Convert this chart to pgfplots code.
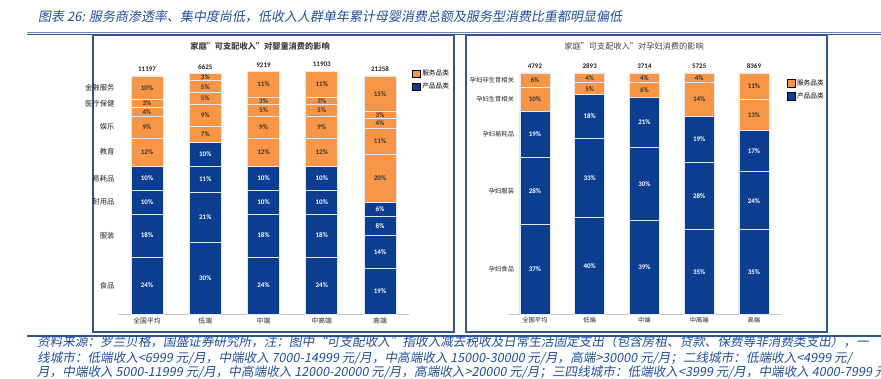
\documentclass[border=0pt]{standalone}
\usepackage{pgfplots}
\pgfplotsset{compat=1.18}
\usepackage{fontspec}
\setmainfont{Carlito}
\newfontfamily\cjk{Noto Sans CJK SC}
\newfontfamily\cjkit{Noto Sans CJK SC}[FakeSlant=0.18]
\definecolor{sorange}{HTML}{F79646}
\definecolor{pblue}{HTML}{0B3D91}
\definecolor{frameblue}{HTML}{2F5597}
\definecolor{textblue}{HTML}{1F4E9F}
\definecolor{segline}{HTML}{E4E9F2}
\pgfplotsset{
  pseg/.style={fill=pblue, draw=segline, line width=0.7pt},
  oseg/.style={fill=sorange, draw=segline, line width=0.7pt},
  lab/.style={draw=none, mark=none, point meta=explicit symbolic,
    nodes near coords={\pgfplotspointmeta\%},
    every node near coord/.style={anchor=center, inner sep=0pt, font=\fontsize{7}{7}\selectfont\bfseries, text=#1}},
  tot/.style={draw=none, mark=none, point meta=explicit symbolic,
    nodes near coords={\pgfplotspointmeta},
    every node near coord/.style={anchor=south, inner sep=0pt, yshift=4pt, font=\fontsize{7}{7}\selectfont\bfseries, text=black!85}},
  frame/.style={scale only axis, anchor=south west,
    xmin=-0.5, xmax=4.5, ymin=0, ymax=105, clip=false},
  panel/.style={frame,
    ybar stacked,
    axis x line*=bottom, axis y line*=left,
    y axis line style={draw=none},
    x axis line style={draw=gray!45, line width=0.8pt, -},
    tick style={draw=none},
    xtick={0,...,4}, xticklabels={全国平均,低端,中端,中高端,高端},
    ticklabel style={text=black!85},
    legend style={draw=none, fill=none, anchor=north west, font=\cjk\fontsize{6.7}{8}\selectfont, row sep=2pt, inner sep=0pt, legend cell align=left},
    legend image code/.code={\fill[##1] (0pt,-3.8pt) rectangle (7.6pt,3.8pt);},
  },
  labels/.style={frame, hide axis},
}
\begin{document}
\begin{tikzpicture}[x=1pt,y=1pt]
\useasboundingbox (0,0) rectangle (881,378);
\clip (0,0) rectangle (881,378);
% header
\node[anchor=west, inner sep=0pt, text=textblue, font=\cjkit\fontsize{13}{14}\selectfont] at (38,361) {图表 26: 服务商渗透率、集中度尚低，低收入人群单年累计母婴消费总额及服务型消费比重都明显偏低};
\draw[frameblue!70, line width=0.9pt] (27,345.7) -- (881,345.7);
\draw[frameblue, line width=1.1pt] (27,343.8) -- (881,343.8);
% frames
\draw[frameblue, line width=1.3pt] (93,343) rectangle (454,46);
\draw[frameblue, line width=1.3pt] (466,343) rectangle (827,46);
\node[font=\cjk\bfseries\fontsize{8.2}{10}\selectfont, text=black!75] at (260,332) {家庭”可支配收入”对婴童消费的影响};
\node[font=\cjk\fontsize{8.2}{10}\selectfont, text=black!75] at (634,332) {家庭”可支配收入”对孕妇消费的影响};
% footer
\draw[frameblue, line width=1.2pt] (27,42) -- (881,42);
\begin{scope}[every node/.style={anchor=west, inner sep=0pt, text=textblue, font=\cjkit\fontsize{12.6}{14}\selectfont}]
\node at (37,36) {资料来源：罗兰贝格，国盛证券研究所，注：图中“可支配收入”指收入减去税收及日常生活固定支出（包含房租、贷款、保费等非消费类支出），一};
\node at (37,20) {线城市：低端收入<6999 元/月，中端收入 7000-14999 元/月，中高端收入 15000-30000 元/月，高端>30000 元/月；二线城市：低端收入<4999 元/};
\node at (37,6) {月，中端收入 5000-11999 元/月，中高端收入 12000-20000 元/月，高端收入>20000 元/月；三四线城市：低端收入<3999 元/月，中端收入 4000-7999 元/月};
\end{scope}
% left chart
\begin{axis}[panel, at={(117.9pt,64pt)}, x=58.25pt, y=2.38pt, bar width=32pt,
  xticklabel style={font=\cjk\fontsize{6.8}{8}\selectfont},
  yticklabel style={font=\cjk\fontsize{7.3}{8}\selectfont},
  ytick={12,33,47,57,68,78.5,88.5,95},
  yticklabels={食品,服装,耐用品,易耗品,教育,娱乐,医疗保健,金融服务},
  legend style={at={(1.01,0.985)}}]
\addlegendimage{fill=sorange}\addlegendentry{服务品类}
\addlegendimage{fill=pblue}\addlegendentry{产品品类}
\addplot[pseg] coordinates {(0,24) (1,30) (2,24) (3,24) (4,19)};
\addplot[pseg] coordinates {(0,18) (1,21) (2,18) (3,18) (4,14)};
\addplot[pseg] coordinates {(0,10) (1,11) (2,10) (3,10) (4,8)};
\addplot[pseg] coordinates {(0,10) (1,10) (2,10) (3,10) (4,6)};
\addplot[oseg] coordinates {(0,12) (1,7) (2,12) (3,12) (4,20)};
\addplot[oseg] coordinates {(0,9) (1,9) (2,9) (3,9) (4,11)};
\addplot[oseg] coordinates {(0,4) (1,5) (2,5) (3,5) (4,4)};
\addplot[oseg] coordinates {(0,3) (1,5) (2,3) (3,3) (4,3)};
\addplot[oseg] coordinates {(0,10) (1,3) (2,11) (3,11) (4,15)};
\end{axis}
\begin{axis}[labels, at={(117.9pt,64pt)}, x=58.25pt, y=2.38pt]
\addplot[lab=white] table[meta=v] {
x y v
0 12 24
0 33 18
0 47 10
0 57 10
1 15 30
1 40.5 21
1 56.5 11
1 67 10
2 12 24
2 33 18
2 47 10
2 57 10
3 12 24
3 33 18
3 47 10
3 57 10
4 9.5 19
4 26 14
4 37 8
4 44 6
};
\addplot[lab=black!80] table[meta=v] {
x y v
0 68 12
0 78.5 9
0 85 4
0 88.5 3
0 95 10
1 75.5 7
1 83.5 9
1 90.5 5
1 95.5 5
1 99.5 3
2 68 12
2 78.5 9
2 85.5 5
2 89.5 3
2 96.5 11
3 68 12
3 78.5 9
3 85.5 5
3 89.5 3
3 96.5 11
4 57 20
4 72.5 11
4 80 4
4 83.5 3
4 92.5 15
};
\addplot[tot] table[meta=v] {
x y v
0 100 11197
1 101 6625
2 102 9219
3 102 11903
4 100 21258
};
\end{axis}
% right chart
\begin{axis}[panel, at={(507.6pt,64pt)}, x=54.75pt, y=2.41pt, bar width=30pt,
  xticklabel style={font=\cjk\fontsize{6.3}{8}\selectfont},
  yticklabel style={font=\cjk\fontsize{6.3}{8}\selectfont, xshift=10pt},
  ytick={18.5,51,74.5,89,97},
  yticklabels={孕妇食品,孕妇服装,孕妇易耗品,孕妇生育相关,孕妇非生育相关},
  legend style={at={(1.02,0.935)}}]
\addlegendimage{fill=sorange}\addlegendentry{服务品类}
\addlegendimage{fill=pblue}\addlegendentry{产品品类}
\addplot[pseg] coordinates {(0,37) (1,40) (2,39) (3,35) (4,35)};
\addplot[pseg] coordinates {(0,28) (1,33) (2,30) (3,28) (4,24)};
\addplot[pseg] coordinates {(0,19) (1,18) (2,21) (3,19) (4,17)};
\addplot[oseg] coordinates {(0,10) (1,5) (2,6) (3,14) (4,13)};
\addplot[oseg] coordinates {(0,6) (1,4) (2,4) (3,4) (4,11)};
\end{axis}
\begin{axis}[labels, at={(507.6pt,64pt)}, x=54.75pt, y=2.41pt]
\addplot[lab=white] table[meta=v] {
x y v
0 18.5 37
0 51 28
0 74.5 19
1 20 40
1 56.5 33
1 82 18
2 19.5 39
2 54 30
2 79.5 21
3 17.5 35
3 49 28
3 72.5 19
4 17.5 35
4 47 24
4 67.5 17
};
\addplot[lab=black!80] table[meta=v] {
x y v
0 89 10
0 97 6
1 93.5 5
1 98 4
2 93 6
2 98 4
3 89 14
3 98 4
4 82.5 13
4 94.5 11
};
\addplot[tot] table[meta=v] {
x y v
0 100 4792
1 100 2893
2 100 3714
3 100 5725
4 100 8369
};
\end{axis}
\end{tikzpicture}
\end{document}
